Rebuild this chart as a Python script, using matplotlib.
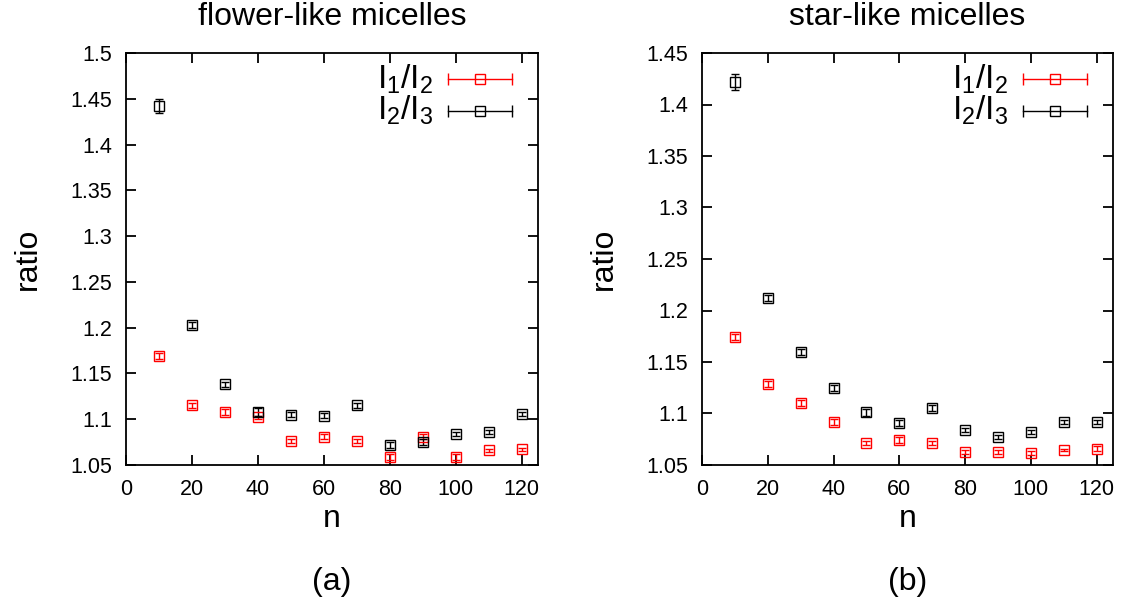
import matplotlib
matplotlib.use("Agg")
import matplotlib.pyplot as plt

plt.rcParams['font.family'] = ['Liberation Sans', 'DejaVu Sans']
plt.rcParams['mathtext.fontset'] = 'custom'
plt.rcParams['mathtext.rm'] = 'Liberation Sans'
plt.rcParams['mathtext.it'] = 'Liberation Sans'

n = [10, 20, 30, 40, 50, 60, 70, 80, 90, 100, 110, 120]

# flower-like micelles
flower_i1i2 = [1.169, 1.115, 1.108, 1.102, 1.076, 1.081, 1.076, 1.059, 1.081, 1.059, 1.066, 1.067]
flower_i1i2_err = [0.003, 0.003, 0.003, 0.002, 0.002, 0.003, 0.002, 0.003, 0.003, 0.003, 0.002, 0.002]
flower_i2i3 = [1.442, 1.203, 1.138, 1.108, 1.105, 1.104, 1.115, 1.072, 1.075, 1.084, 1.086, 1.106]
flower_i2i3_err = [0.008, 0.003, 0.003, 0.004, 0.003, 0.003, 0.003, 0.003, 0.003, 0.002, 0.002, 0.002]

# star-like micelles
star_i1i2 = [1.174, 1.129, 1.110, 1.092, 1.071, 1.074, 1.071, 1.063, 1.063, 1.062, 1.065, 1.066]
star_i1i2_err = [0.003, 0.003, 0.003, 0.003, 0.002, 0.003, 0.002, 0.002, 0.002, 0.002, 0.001, 0.002]
star_i2i3 = [1.422, 1.212, 1.160, 1.125, 1.101, 1.091, 1.105, 1.084, 1.077, 1.082, 1.092, 1.092]
star_i2i3_err = [0.008, 0.003, 0.003, 0.003, 0.003, 0.003, 0.003, 0.002, 0.002, 0.002, 0.002, 0.002]

titles = ['flower-like micelles', 'star-like micelles']
panel_labels = ['(a)', '(b)']
ylims = [(1.05, 1.5), (1.05, 1.45)]
yticks_list = [[1.05, 1.1, 1.15, 1.2, 1.25, 1.3, 1.35, 1.4, 1.45, 1.5],
               [1.05, 1.1, 1.15, 1.2, 1.25, 1.3, 1.35, 1.4, 1.45]]
xticks = [0, 20, 40, 60, 80, 100, 120]
legend_labels = [r'$\mathrm{I_1/I_2}$', r'$\mathrm{I_2/I_3}$']
colors = ['#ff0000', '#000000']

fig = plt.figure(figsize=(11.23, 6.08), dpi=100)
W, H = 1123, 608
axes_px = [(126, 53, 538, 465), (702, 53, 1113, 465)]

data = [
    [(flower_i1i2, flower_i1i2_err), (flower_i2i3, flower_i2i3_err)],
    [(star_i1i2, star_i1i2_err), (star_i2i3, star_i2i3_err)],
]

for k, (x0, y0, x1, y1) in enumerate(axes_px):
    ax = fig.add_axes([x0 / W, (H - y1) / H, (x1 - x0) / W, (y1 - y0) / H])
    for (vals, errs), c in zip(data[k], colors):
        ax.errorbar(n, vals, yerr=errs, fmt='s', mfc='none', mec=c, ms=7.5,
                    mew=1.0, ecolor=c, elinewidth=1.0, capsize=3.0, capthick=1.0,
                    zorder=3)
    ax.set_xlim(0, 125)
    ax.set_ylim(*ylims[k])
    ax.set_xticks(xticks)
    ax.set_yticks(yticks_list[k])
    ax.set_yticklabels([('%g' % v) for v in yticks_list[k]])
    ax.tick_params(direction='in', length=7, width=1.3, labelsize=15.5,
                   top=True, right=True)
    ax.tick_params(axis='x', pad=10)
    ax.tick_params(axis='y', pad=10)
    for s in ax.spines.values():
        s.set_linewidth(1.3)
    ax.set_title(titles[k], fontsize=23, pad=20)
    ax.set_ylabel('ratio', fontsize=23, labelpad=20)
    ax.set_xlabel('n', fontsize=23, labelpad=3)
    ax.text(0.5, -0.285, panel_labels[k], transform=ax.transAxes,
            ha='center', va='center', fontsize=23)

    # gnuplot-style legend
    for j, (lab, c) in enumerate(zip(legend_labels, colors)):
        yy = 0.937 - j * 0.077
        ax.text(0.745, yy, lab, transform=ax.transAxes, ha='right',
                va='center', fontsize=24, color='black')
        ax.plot([0.782, 0.937], [yy, yy], color=c, lw=1.0,
                transform=ax.transAxes, clip_on=False)
        ax.plot([0.782, 0.937], [yy, yy], ls='none', marker='|', ms=8,
                mew=1.0, color=c, transform=ax.transAxes, clip_on=False)
        ax.plot([0.859], [yy], ls='none', marker='s', ms=7.5, mfc='none',
                mec=c, mew=1.0, transform=ax.transAxes, clip_on=False)

fig.savefig('out.png', dpi=100)
